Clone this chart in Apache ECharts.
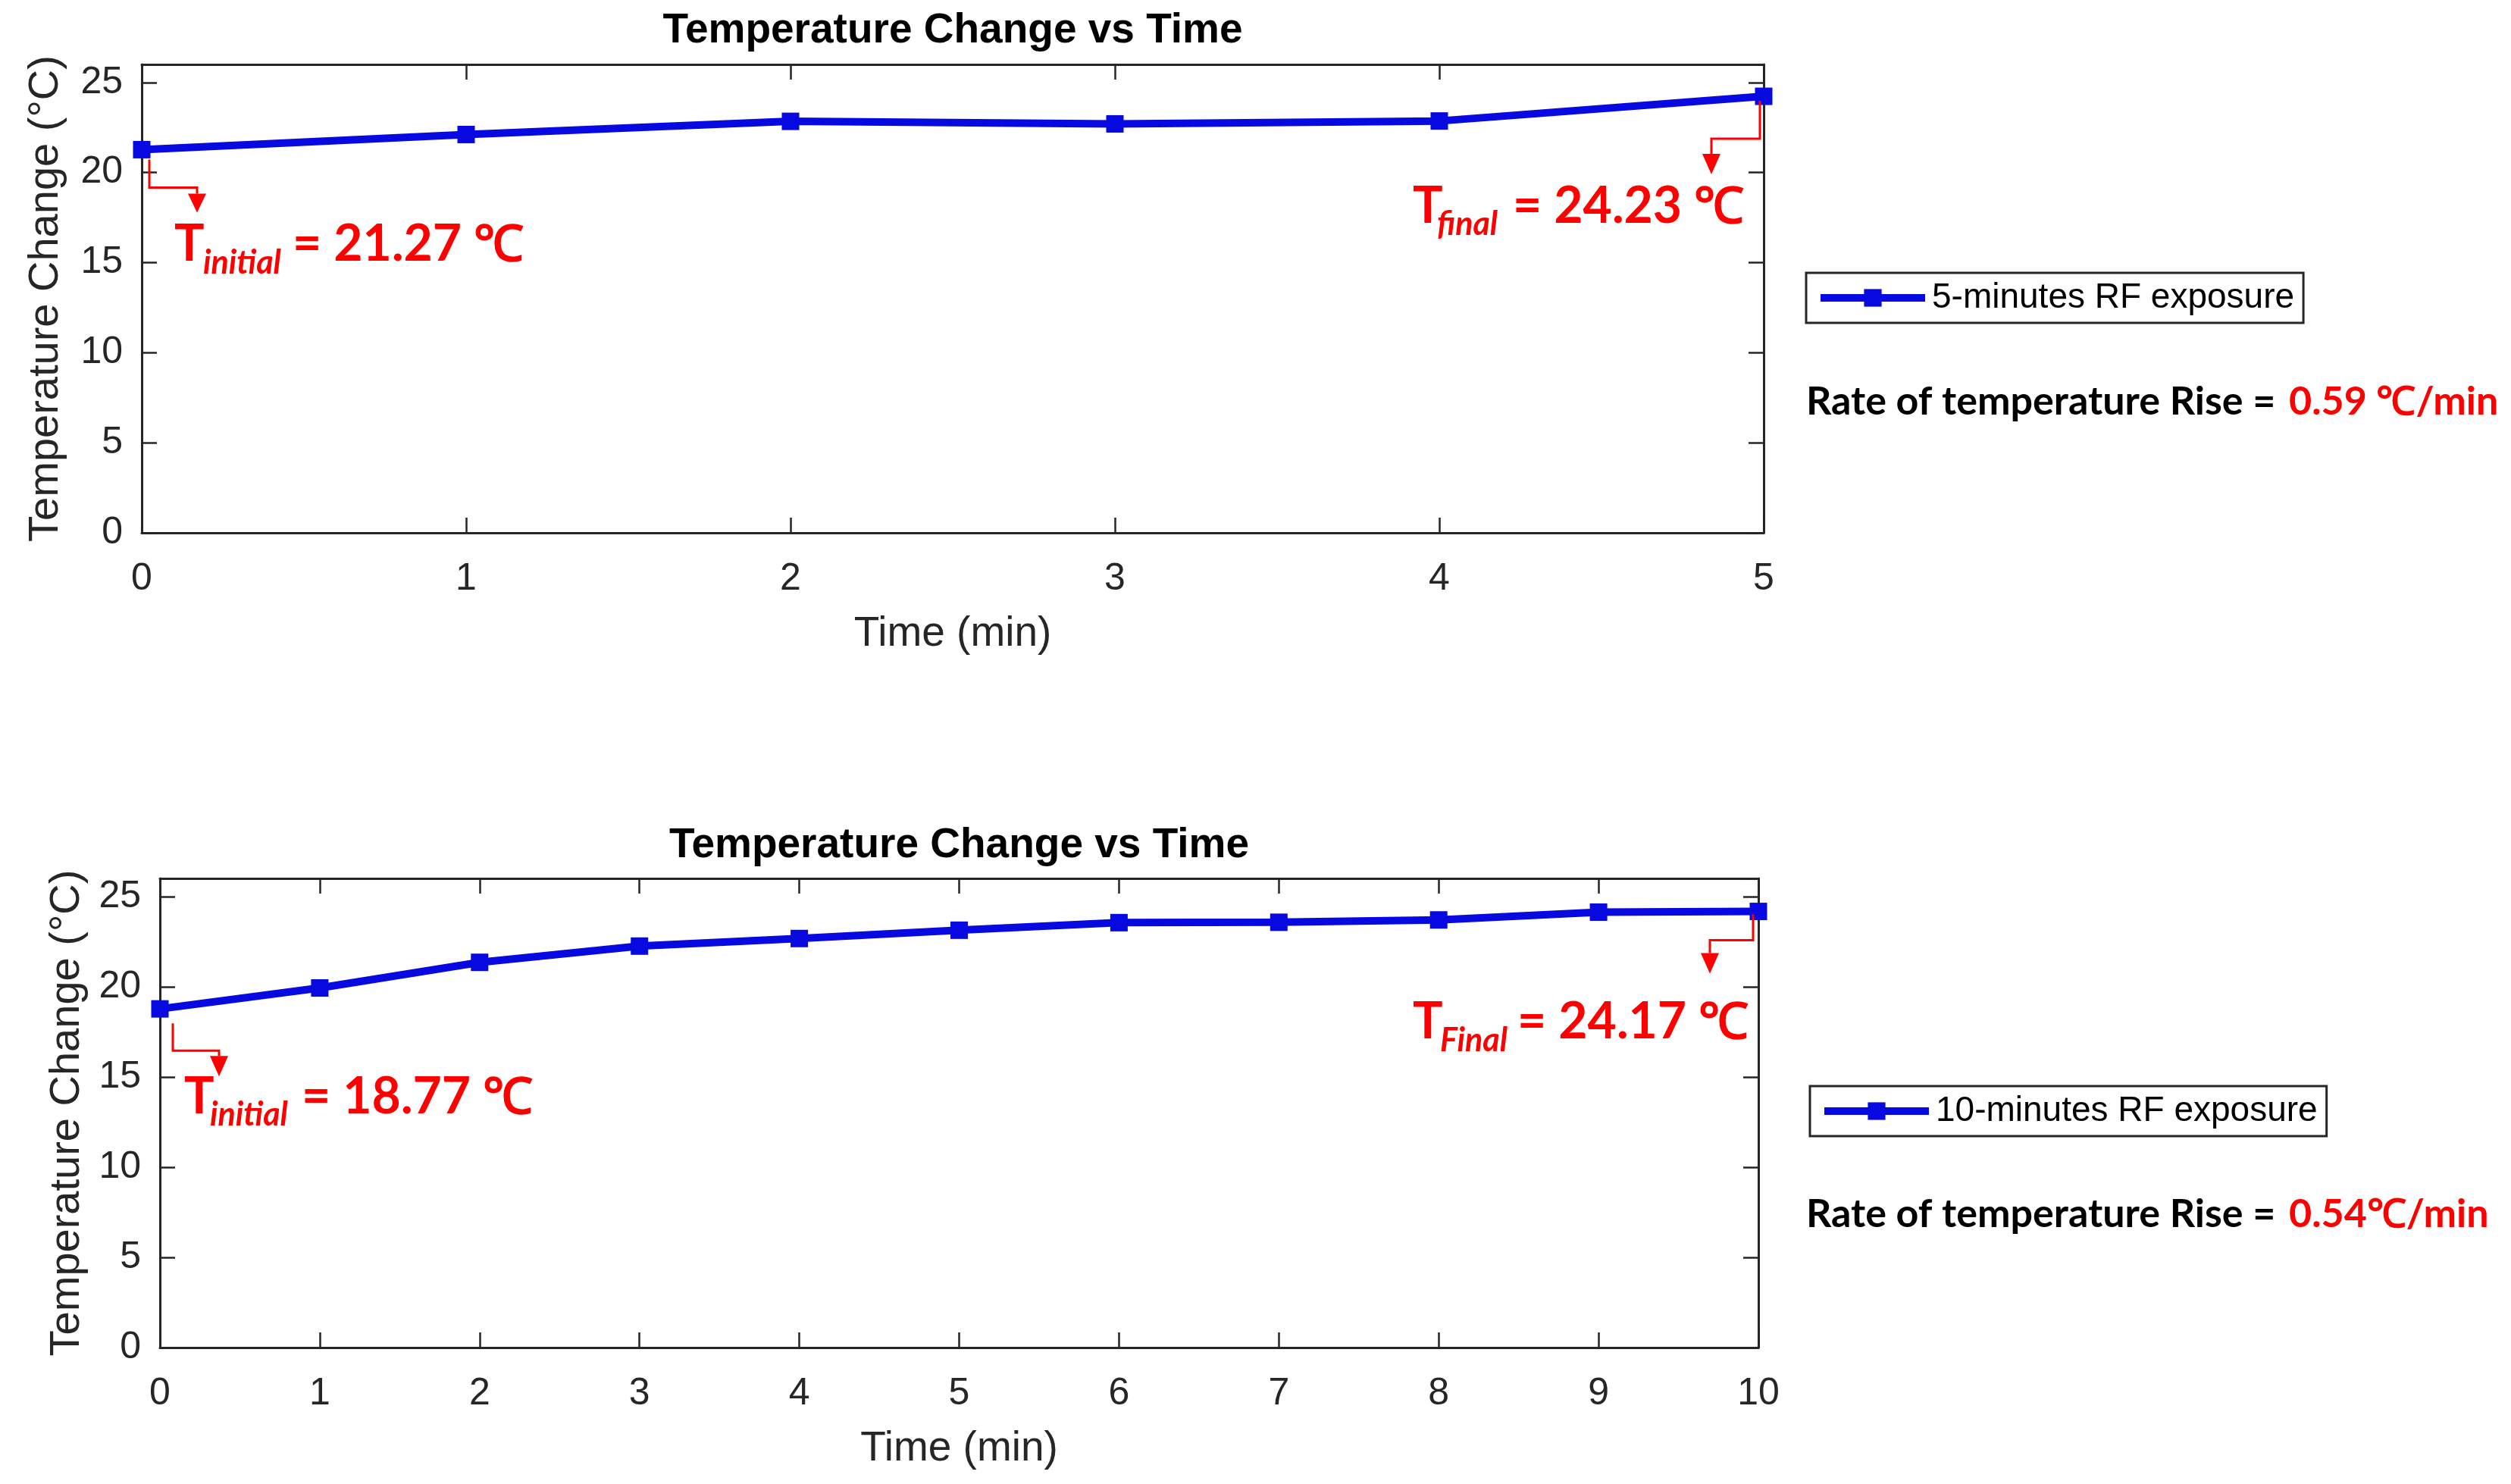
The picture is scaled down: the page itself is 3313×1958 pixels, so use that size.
<!DOCTYPE html>
<html><head><meta charset="utf-8">
<script src="https://cdn.jsdelivr.net/npm/echarts@6/dist/echarts.min.js"></script>
<style>html,body{margin:0;padding:0;background:#fff}#c{width:3313px;height:1958px}</style>
</head><body><div id="c"></div>
<script>
// ---------- data ----------
const chartTitles = ['Temperature Change vs Time', 'Temperature Change vs Time'];
const xName = 'Time (min)';
const yName = 'Temperature Change (°C)';
const topTime = [0, 1, 2, 3, 4, 5];
const topTemp = [21.27, 22.11, 22.84, 22.70, 22.86, 24.23];
const bottomTime = [0, 1, 2, 3, 4, 5, 6, 7, 8, 9, 10];
const bottomTemp = [18.77, 19.93, 21.35, 22.25, 22.67, 23.13, 23.55, 23.57, 23.70, 24.13, 24.17];
const seriesNames = ['5-minutes RF exposure', '10-minutes RF exposure'];
const initialSub = ['initial', 'initial'];
const finalSub = ['final', 'Final'];
const initialText = ['= 21.27 ℃', '= 18.77 ℃'];
const finalText = ['= 24.23 ℃', '= 24.17 ℃'];
const rateLabel = 'Rate of temperature Rise = ';
const rateValues = ['0.59 ℃/min', '0.54℃/min'];
const yMin = 0, yMax = 26, yStep = 5;
const xMax = [5, 10];

// ---------- style ----------
const F = '"Liberation Sans", Arial, Helvetica, sans-serif';
const FC = 'Lato, "Open Sans", sans-serif';
const AX = '#262626';
const BLUE = '#0808E0';
const RED = '#FF0000';

const grids = [
  {left: 187, top: 85, width: 2140, height: 618},
  {left: 211, top: 1159, width: 2109, height: 619}
];

function lineStyle() { return {color: AX, width: 3}; }
function tickStyle() { return {show: true, inside: true, length: 20, lineStyle: {color: AX, width: 2.5}}; }

const xAxis = [], yAxis = [];
[0, 1].forEach(gi => {
  xAxis.push({
    type: 'value', gridIndex: gi, min: 0, max: xMax[gi], interval: 1, position: 'bottom',
    axisLine: {show: true, onZero: false, lineStyle: lineStyle()},
    axisTick: tickStyle(),
    axisLabel: {margin: 36, fontSize: 50, color: AX, fontFamily: F},
    splitLine: {show: false},
    name: xName, nameLocation: 'middle', nameGap: 106,
    nameTextStyle: {fontSize: 55, color: AX, fontFamily: F}
  });
  xAxis.push({
    type: 'value', gridIndex: gi, min: 0, max: xMax[gi], interval: 1, position: 'top',
    axisLine: {show: true, onZero: false, lineStyle: lineStyle()},
    axisTick: tickStyle(), axisLabel: {show: false}, splitLine: {show: false}
  });
  yAxis.push({
    type: 'value', gridIndex: gi, min: yMin, max: yMax, interval: yStep, position: 'left',
    axisLine: {show: true, onZero: false, lineStyle: lineStyle()},
    axisTick: tickStyle(),
    axisLabel: {margin: 25, fontSize: 50, color: AX, fontFamily: F, showMaxLabel: false},
    splitLine: {show: false},
    name: yName, nameLocation: 'middle', nameGap: gi === 0 ? 98 : 94,
    nameTextStyle: {fontSize: 56, color: AX, fontFamily: F}
  });
  yAxis.push({
    type: 'value', gridIndex: gi, min: yMin, max: yMax, interval: yStep, position: 'right',
    axisLine: {show: true, onZero: false, lineStyle: lineStyle()},
    axisTick: tickStyle(), axisLabel: {show: false}, splitLine: {show: false}
  });
});

function mkSeries(i, xs, ys) {
  return {
    type: 'line', name: seriesNames[i], xAxisIndex: i * 2, yAxisIndex: i * 2,
    data: xs.map((x, k) => [x, ys[k]]),
    symbol: 'rect', symbolSize: 23, showAllSymbol: true,
    lineStyle: {color: BLUE, width: 10}, itemStyle: {color: BLUE},
    clip: false, z: 3, animation: false
  };
}

function mkLegend(i, left, top) {
  return {
    data: [seriesNames[i]], left: left, top: top, orient: 'horizontal',
    itemWidth: 138, itemHeight: 29, padding: [10, 12, 10, 14],
    borderColor: AX, borderWidth: 3, backgroundColor: '#fff', selectedMode: false,
    lineStyle: {width: 10},
    textStyle: {fontSize: 46, color: '#000', fontFamily: F, padding: [0, 0, 0, 4]}
  };
}

const chart = echarts.init(document.getElementById('c'), null, {renderer: 'canvas'});
chart.setOption({
  animation: false,
  backgroundColor: '#fff',
  grid: grids,
  xAxis: xAxis,
  yAxis: yAxis,
  legend: [mkLegend(0, 2383, 360), mkLegend(1, 2388, 1433)],
  series: [mkSeries(0, topTime, topTemp), mkSeries(1, bottomTime, bottomTemp)]
});

// ---------- annotations (anchored to data points) ----------
function txt(x, y, text, fs, family, weight, style, color, align, va) {
  return {type: 'text', x: x, y: y, z: 10, silent: true,
    style: {text: text, fontSize: fs, fontFamily: family, fontWeight: weight, fontStyle: style,
      fill: color, align: align || 'left', verticalAlign: va || 'middle'}};
}
function base(b, fs) { return b - 0.387 * fs; }

const G = [];
// titles
[0, 1].forEach(gi => {
  const g = grids[gi];
  G.push(txt(g.left + g.width / 2, gi === 0 ? 41 : 1116, chartTitles[gi], 55, F, 'bold', 'normal', '#000', 'center', 'middle'));
});
// rate texts
[[530, 0], [1602, 1]].forEach(([cy, i]) => {
  G.push(txt(2383, cy, rateLabel, 52, FC, 'bold', 'normal', '#000', 'left', 'middle'));
  G.push(txt(3020, cy, rateValues[i], 52, FC, 'bold', 'normal', RED, 'left', 'middle'));
});

const annos = [
  {s: 0, k: 0, vx: 10, vy: [13, 50], hx: 73, head: [58, 83], T: 43, sub: 81, main: 199, bl: 151, sbl: 166, subText: initialSub[0], mainText: initialText[0]},
  {s: 0, k: topTime.length - 1, vx: -5, vy: [6, 56], hx: -69, head: [76, 103], T: -463, sub: -431, main: -331, bl: 171, sbl: 186, subText: finalSub[0], mainText: finalText[0]},
  {s: 1, k: 0, vx: 17, vy: [19, 55], hx: 78, head: [62, 89], T: 32, sub: 66, main: 187, bl: 142, sbl: 157, subText: initialSub[1], mainText: initialText[1]},
  {s: 1, k: bottomTime.length - 1, vx: -7, vy: [4, 38], hx: -64, head: [55, 82], T: -456, sub: -420, main: -318, bl: 172, sbl: 187, subText: finalSub[1], mainText: finalText[1]}
];
annos.forEach(a => {
  const xs = a.s === 0 ? topTime : bottomTime;
  const ys = a.s === 0 ? topTemp : bottomTemp;
  const p = chart.convertToPixel({seriesIndex: a.s}, [xs[a.k], ys[a.k]]);
  const ax = p[0], ay = p[1];
  G.push({type: 'polyline', z: 9, silent: true,
    shape: {points: [[ax + a.vx, ay + a.vy[0]], [ax + a.vx, ay + a.vy[1]], [ax + a.hx, ay + a.vy[1]], [ax + a.hx, ay + a.head[0]]]},
    style: {stroke: RED, lineWidth: 3, fill: null}});
  G.push({type: 'polygon', z: 9, silent: true,
    shape: {points: [[ax + a.hx - 12, ay + a.head[0]], [ax + a.hx + 12, ay + a.head[0]], [ax + a.hx, ay + a.head[1]]]},
    style: {fill: RED}});
  G.push(txt(ax + a.T, base(ay + a.bl, 66), 'T', 66, FC, 'bold', 'normal', RED));
  G.push(txt(ax + a.sub, base(ay + a.sbl, 43), a.subText, 43, FC, 'bold', 'italic', RED));
  G.push(txt(ax + a.main, base(ay + a.bl, 66), a.mainText, 66, FC, 'bold', 'normal', RED));
});
chart.setOption({graphic: G});
</script>
</body></html>
